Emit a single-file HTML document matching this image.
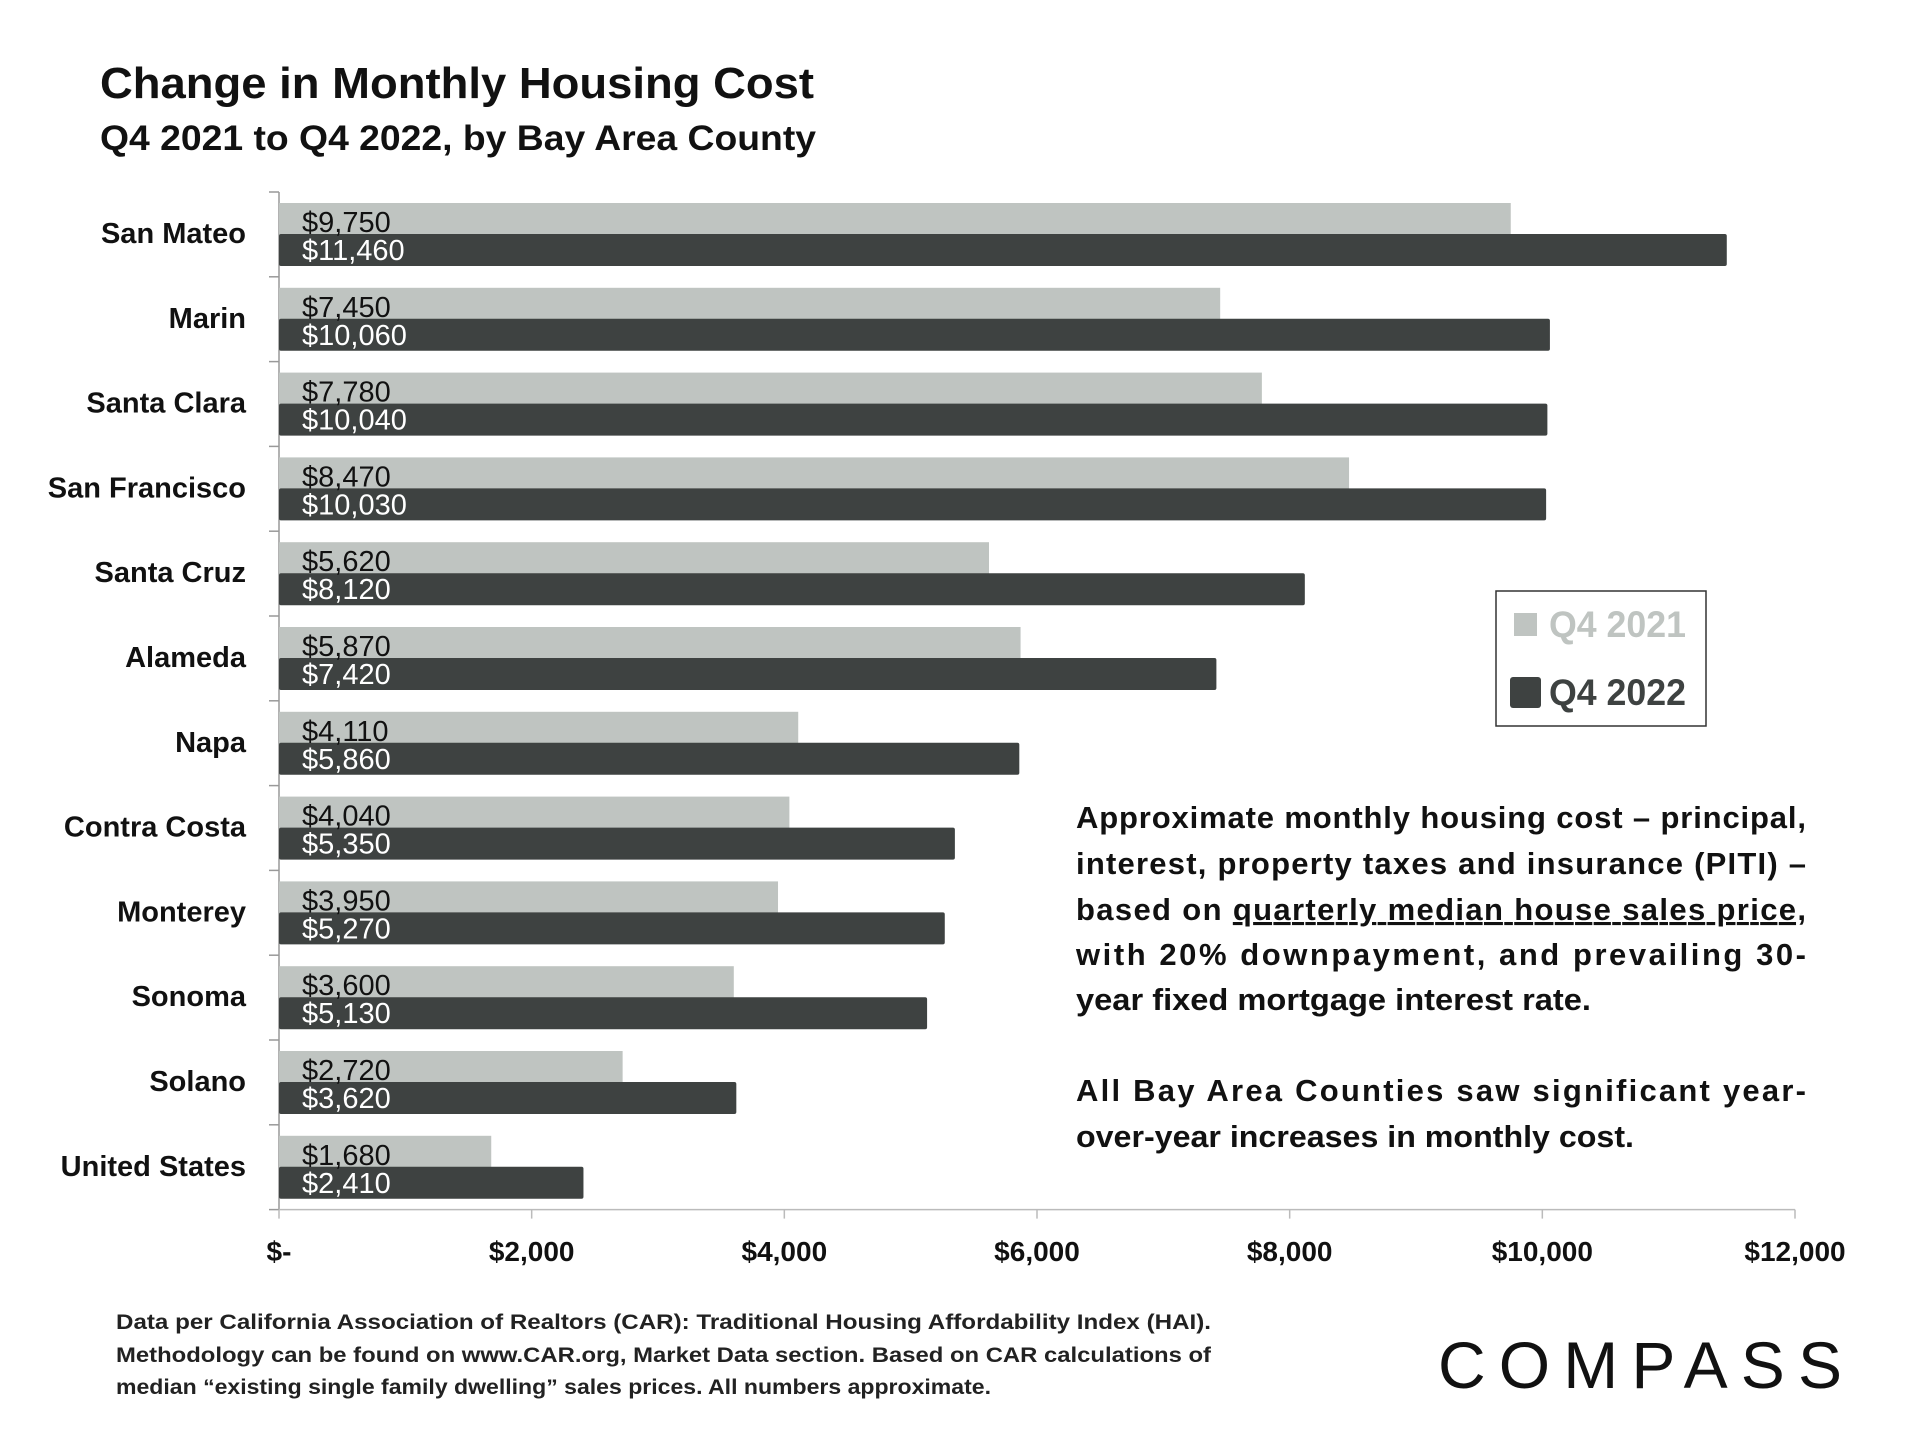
<!DOCTYPE html>
<html><head><meta charset="utf-8"><style>
html,body{margin:0;padding:0;background:#fff;}
svg{display:block;font-family:"Liberation Sans",sans-serif;}
</style></head><body>
<svg id="chart" width="1920" height="1440" viewBox="0 0 1920 1440" xmlns="http://www.w3.org/2000/svg">
<text x="100" y="98" font-size="44" font-weight="bold" fill="#111" textLength="714" lengthAdjust="spacingAndGlyphs">Change in Monthly Housing Cost</text>
<text x="100" y="150" font-size="35" font-weight="bold" fill="#111" textLength="716" lengthAdjust="spacingAndGlyphs">Q4 2021 to Q4 2022, by Bay Area County</text>
<g id="plot"></g>
<g>
<rect x="1496" y="591" width="210" height="135" fill="#fff" stroke="#333" stroke-width="1.5"/>
<rect x="1514" y="613" width="23" height="23" fill="#bfc4c1"/>
<text x="1549" y="637" font-size="37" font-weight="bold" fill="#bfc4c1" textLength="137" lengthAdjust="spacingAndGlyphs">Q4 2021</text>
<rect x="1510" y="677" width="31" height="31" rx="3" fill="#3e4241"/>
<text x="1549" y="705" font-size="37" font-weight="bold" fill="#3e4241" textLength="137" lengthAdjust="spacingAndGlyphs">Q4 2022</text>
</g>
<g font-size="31" font-weight="bold" fill="#111">
<text x="1076" y="828" textLength="730" lengthAdjust="spacing">Approximate monthly housing cost – principal,</text>
<text x="1076" y="874" textLength="730" lengthAdjust="spacing">interest, property taxes and insurance (PITI) –</text>
<text x="1076" y="920" textLength="730" lengthAdjust="spacing">based on <tspan text-decoration="underline">quarterly median house sales price</tspan>,</text>
<text x="1076" y="965" textLength="730" lengthAdjust="spacing">with 20% downpayment, and prevailing 30-</text>
<text x="1076" y="1010" textLength="515" lengthAdjust="spacingAndGlyphs">year fixed mortgage interest rate.</text>
<text x="1076" y="1101" textLength="730" lengthAdjust="spacing">All Bay Area Counties saw significant year-</text>
<text x="1076" y="1147" textLength="558" lengthAdjust="spacingAndGlyphs">over-year increases in monthly cost.</text>
</g>
<g font-size="21" font-weight="bold" fill="#222">
<text x="116" y="1329" textLength="1095" lengthAdjust="spacingAndGlyphs">Data per California Association of Realtors (CAR): Traditional Housing Affordability Index (HAI).</text>
<text x="116" y="1362" textLength="1095" lengthAdjust="spacingAndGlyphs">Methodology can be found on www.CAR.org, Market Data section. Based on CAR calculations of</text>
<text x="116" y="1394" textLength="875" lengthAdjust="spacingAndGlyphs">median “existing single family dwelling” sales prices. All numbers approximate.</text>
</g>
<text x="1438" y="1388" font-size="66" fill="#111" textLength="404" lengthAdjust="spacing">COMPASS</text>
</svg>
<script>
const categories = ["San Mateo","Marin","Santa Clara","San Francisco","Santa Cruz","Alameda","Napa","Contra Costa","Monterey","Sonoma","Solano","United States"];
const q42021 = [9750,7450,7780,8470,5620,5870,4110,4040,3950,3600,2720,1680];
const q42022 = [11460,10060,10040,10030,8120,7420,5860,5350,5270,5130,3620,2410];
const tickValues = [0,2000,4000,6000,8000,10000,12000];
const tickLabels = ["$-","$2,000","$4,000","$6,000","$8,000","$10,000","$12,000"];

const NS = "http://www.w3.org/2000/svg";
const plot = document.getElementById('plot');
const X0 = 279, X1 = 1795, XMAX = 12000, Y0 = 192, BAND = 84.8;
const xs = v => X0 + v / XMAX * (X1 - X0);
const band = i => Y0 + i * BAND;
function mk(tag, attrs) { const e = document.createElementNS(NS, tag); for (const k in attrs) e.setAttribute(k, attrs[k]); plot.appendChild(e); return e; }
function fmt(v) { return "$" + v.toLocaleString("en-US"); }

let ax = mk('line', {x1: X0, y1: Y0, x2: X0, y2: band(categories.length), stroke: '#999', 'stroke-width': 1.5});


let bx = mk('line', {x1: X0, y1: band(categories.length), x2: X1, y2: band(categories.length), stroke: '#bbb', 'stroke-width': 1.5});


for (let i = 0; i <= categories.length; i++) {
  const t = mk('line', {x1: X0 - 10, y1: band(i), x2: X0, y2: band(i), stroke: '#999', 'stroke-width': 1.5});
  
  
}
tickValues.forEach((v, i) => {
  const t = mk('line', {x1: xs(v), y1: band(categories.length), x2: xs(v), y2: band(categories.length) + 9, stroke: '#bbb', 'stroke-width': 1.5});
  
  
  const l = mk('text', {x: xs(v), y: 1261, 'text-anchor': 'middle', 'font-size': 28, 'font-weight': 'bold', fill: '#111'});
  l.textContent = tickLabels[i];
  
  
});
categories.forEach((c, i) => {
  const y = band(i);
  const l = mk('text', {x: 246, y: y + 51, 'text-anchor': 'end', 'font-size': 29, 'font-weight': 'bold', fill: '#111'});
  l.textContent = c;
  
  
  const b1 = mk('rect', {x: X0, y: y + 11, width: xs(q42021[i]) - X0, height: 33, fill: '#bfc4c1'});
  
  
  const b2 = mk('rect', {x: X0, y: y + 42, width: xs(q42022[i]) - X0, height: 32, rx: 2, fill: '#3e4241'});
  
  
  const v1 = mk('text', {x: 302, y: y + 40, 'font-size': 29, fill: '#111'});
  v1.textContent = fmt(q42021[i]);
  
  
  const v2 = mk('text', {x: 302, y: y + 68, 'font-size': 29, fill: '#fff'});
  v2.textContent = fmt(q42022[i]);
  
  
});
</script>
</body></html>
